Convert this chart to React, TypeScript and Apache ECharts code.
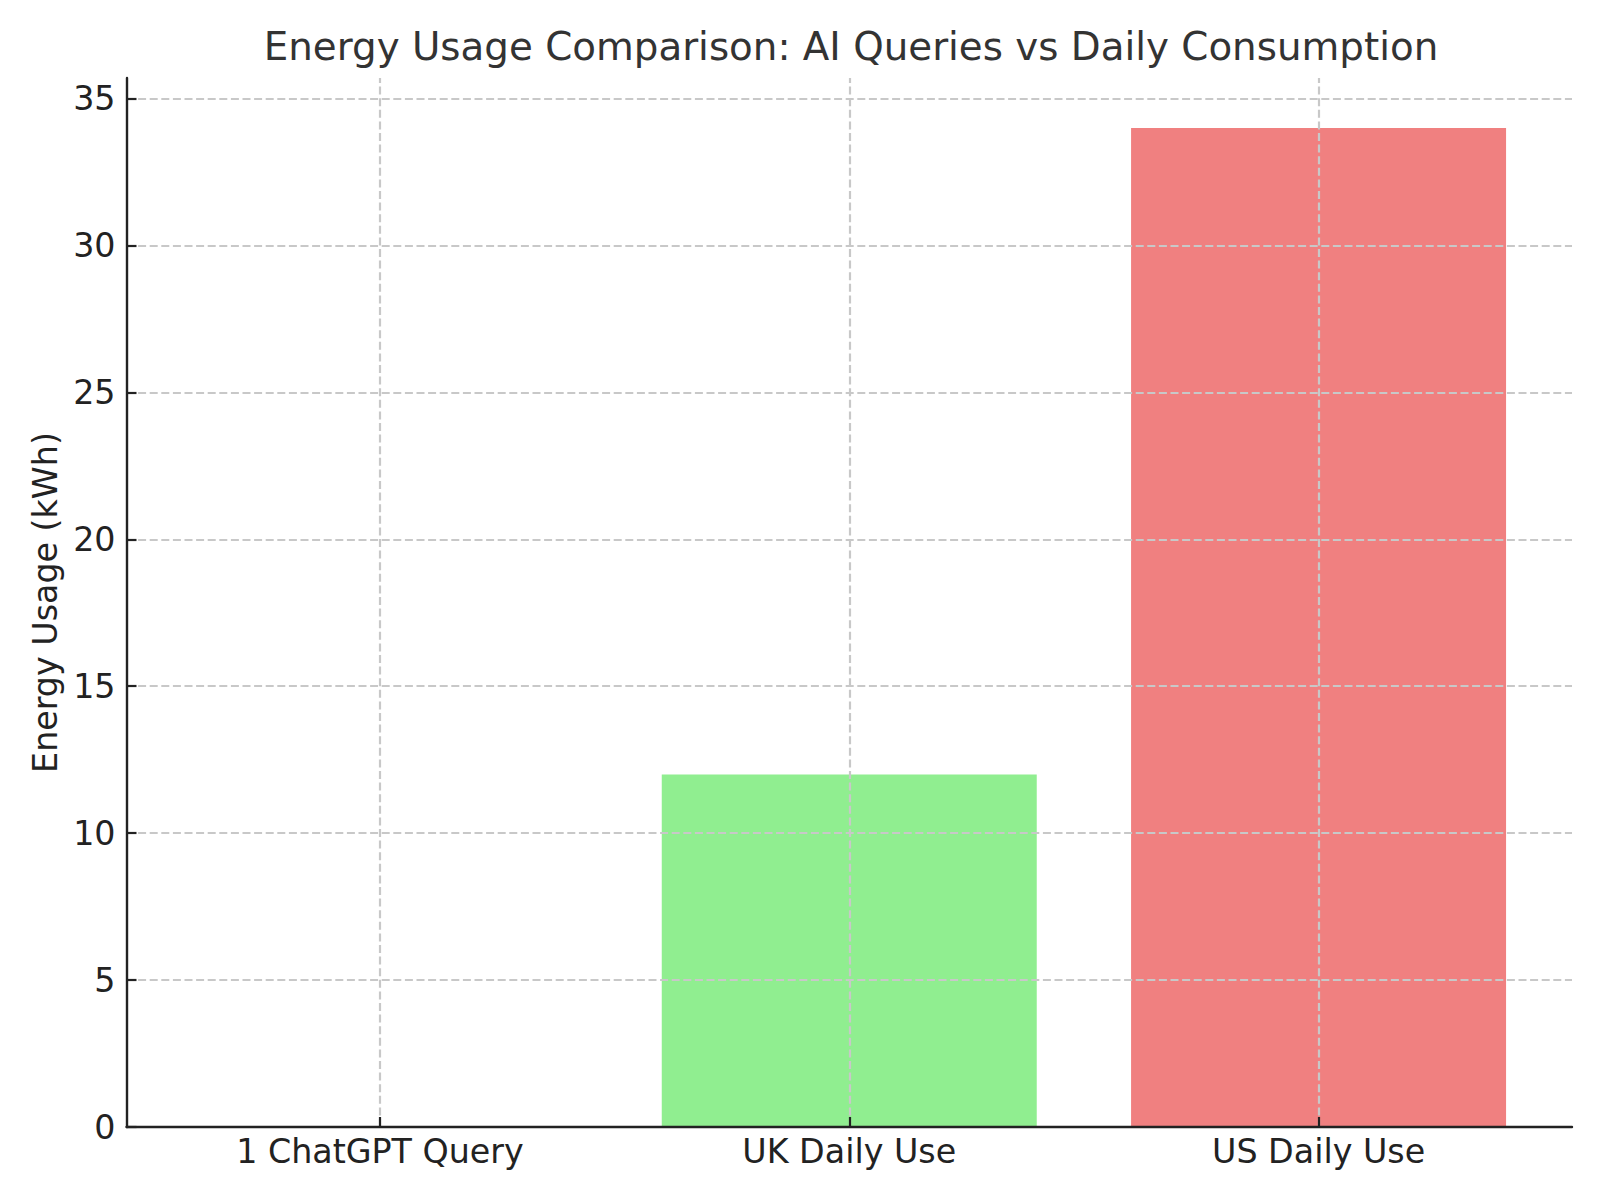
import React, { useEffect, useRef } from 'react';
import * as echarts from 'echarts';

const categories = ['1 ChatGPT Query', 'UK Daily Use', 'US Daily Use'];
const categoryPositions = [0, 1, 2];
const energyValues = [0.003, 12, 34];
const barColors = ['#87CEEB', '#90EE90', '#F08080'];
const yTicks = [0, 5, 10, 15, 20, 25, 30, 35];
const xExtent = [-0.54, 2.54];
const yExtent = [0, 35.7];

const FONT = "'DejaVu Sans', sans-serif";

export default function App() {
  const ref = useRef<HTMLDivElement>(null);

  useEffect(() => {
    if (!ref.current) return;
    const chart = echarts.init(ref.current, undefined, { renderer: 'svg' });

    const gridData: any[] = [
      ...yTicks.filter((v) => v !== 0).map((v) => ({ yAxis: v })),
      ...categoryPositions.map((v) => ({ xAxis: v })),
    ];

    const option: any = {
      animation: false,
      backgroundColor: '#ffffff',
      title: {
        text: 'Energy Usage Comparison: AI Queries vs Daily Consumption',
        left: 846,
        top: 22,
        textAlign: 'center',
        textStyle: {
          fontFamily: FONT,
          fontSize: 38.8,
          fontWeight: 'normal',
          color: '#333333',
        },
      },
      grid: { left: 126.5, right: 28, top: 78, bottom: 73, containLabel: false },
      xAxis: {
        type: 'value',
        min: xExtent[0],
        max: xExtent[1],
        z: 6,
        axisLine: { show: true, onZero: false, lineStyle: { color: '#222222', width: 2.4 } },
        axisTick: {
          show: true,
          inside: true,
          length: 10,
          customValues: categoryPositions,
          lineStyle: { color: '#222222', width: 2.2 },
        },
        axisLabel: {
          customValues: categoryPositions,
          formatter: (v: number) => categories[Math.round(v)] ?? '',
          margin: 8,
          fontSize: 33.3,
          fontFamily: FONT,
          color: '#222222',
        },
        splitLine: { show: false },
      },
      yAxis: {
        type: 'value',
        min: yExtent[0],
        max: yExtent[1],
        z: 6,
        name: 'Energy Usage (kWh)',
        nameLocation: 'middle',
        nameRotate: 90,
        nameGap: 62,
        nameTextStyle: { fontSize: 33.3, fontFamily: FONT, color: '#222222' },
        axisLine: { show: true, onZero: false, lineStyle: { color: '#222222', width: 2.4 } },
        axisTick: {
          show: true,
          inside: true,
          length: 10,
          customValues: yTicks,
          lineStyle: { color: '#222222', width: 2.2 },
        },
        axisLabel: {
          customValues: yTicks,
          margin: 11,
          fontSize: 33.3,
          fontFamily: FONT,
          color: '#222222',
        },
        splitLine: { show: false },
      },
      series: [
        {
          type: 'bar',
          barWidth: 375,
          data: categoryPositions.map((x, i) => ({
            value: [x, energyValues[i]],
            itemStyle: { color: barColors[i] },
          })),
          markLine: {
            silent: true,
            symbol: ['none', 'none'],
            label: { show: false },
            emphasis: { disabled: true },
            lineStyle: { color: '#c8c8c8', width: 2.2, type: [8, 3.6], opacity: 1 },
            data: gridData,
          },
        },
      ],
    };

    chart.setOption(option);
    return () => chart.dispose();
  }, []);

  return (
    <div
      ref={ref}
      style={{ position: 'absolute', left: 0, top: 0, width: 1600, height: 1200 }}
    />
  );
}
